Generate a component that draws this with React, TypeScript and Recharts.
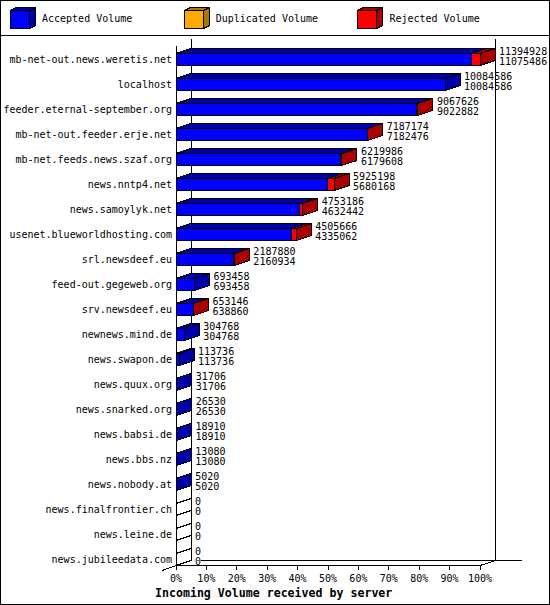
import { BarChart, Bar, XAxis, YAxis, Legend, LabelList } from "recharts";

// volumes per feeding server (articles)
const SERVERS = [
  "mb-net-out.news.weretis.net",
  "localhost",
  "feeder.eternal-september.org",
  "mb-net-out.feeder.erje.net",
  "mb-net.feeds.news.szaf.org",
  "news.nntp4.net",
  "news.samoylyk.net",
  "usenet.blueworldhosting.com",
  "srl.newsdeef.eu",
  "feed-out.gegeweb.org",
  "srv.newsdeef.eu",
  "newnews.mind.de",
  "news.swapon.de",
  "news.quux.org",
  "news.snarked.org",
  "news.babsi.de",
  "news.bbs.nz",
  "news.nobody.at",
  "news.finalfrontier.ch",
  "news.leine.de",
  "news.jubileedata.com",
];

const TOTAL_VOLUME = [
  11394928, 10084586, 9067626, 7187174, 6219986, 5925198, 4753186, 4505666,
  2187880, 693458, 653146, 304768, 113736, 31706, 26530, 18910, 13080, 5020,
  0, 0, 0,
];

const ACCEPTED_VOLUME = [
  11075486, 10084586, 9022882, 7182476, 6179608, 5680168, 4632442, 4335062,
  2160934, 693458, 638860, 304768, 113736, 31706, 26530, 18910, 13080, 5020,
  0, 0, 0,
];

const DUPLICATED_VOLUME = [
  0, 0, 0, 0, 0, 0, 0, 0, 0, 0, 0, 0, 0, 0, 0, 0, 0, 0, 0, 0, 0,
];

const REJECTED_VOLUME = [
  319442, 0, 44744, 4698, 40378, 245030, 120744, 170604, 26946, 0, 14286, 0,
  0, 0, 0, 0, 0, 0, 0, 0, 0,
];

const TICK_PERCENT = [0, 10, 20, 30, 40, 50, 60, 70, 80, 90, 100];
const TICK_LABELS = ["0%", "10%", "20%", "30%", "40%", "50%", "60%", "70%", "80%", "90%", "100%"];

const MAX_VOLUME = Math.max(...TOTAL_VOLUME);

const data = SERVERS.map((server, i) => ({
  server,
  accepted: ACCEPTED_VOLUME[i],
  duplicated: DUPLICATED_VOLUME[i],
  rejected: REJECTED_VOLUME[i],
  total: TOTAL_VOLUME[i],
}));

const MONO = "'DejaVu Sans Mono', 'Liberation Mono', monospace";
const DX = 15;
const DY = 5;

const SIDE_COLORS: Record<string, string> = {
  accepted: "#0000aa",
  duplicated: "#aa7700",
  rejected: "#aa0000",
};

function boxShape(front: string, dark: string, drawEmpty: boolean) {
  return (props: any) => {
    const { x, y, width, height } = props;
    const w = Math.max(width || 0, 0);
    if (w < 0.01 && !drawEmpty) return <g />;
    const x1 = x + w;
    return (
      <g stroke="#000" strokeWidth={1} shapeRendering="crispEdges">
        <rect x={x} y={y} width={w} height={height} fill={front} />
        <polygon
          points={`${x},${y} ${x1},${y} ${x1 + DX},${y - DY} ${x + DX},${y - DY}`}
          fill={dark}
        />
        <polygon
          points={`${x1},${y} ${x1 + DX},${y - DY} ${x1 + DX},${y + height - DY} ${x1},${y + height}`}
          fill={w > 0 ? dark : "#fff"}
        />
      </g>
    );
  };
}

function ValueLabel(props: any) {
  const vb = props.viewBox || props;
  const i = props.index;
  const tx = vb.x + Math.max(vb.width || 0, 0) + DX + 4;
  const cy = vb.y + vb.height / 2;
  return (
    <g fontFamily={MONO} fontSize={10} fill="#000">
      <text x={tx} y={cy - 8.5} dy="0.355em">{TOTAL_VOLUME[i]}</text>
      <text x={tx} y={cy + 2} dy="0.355em">{ACCEPTED_VOLUME[i]}</text>
    </g>
  );
}

function PercentTick({ x, y, index }: any) {
  return (
    <g>
      <line x1={x} x2={x} y1={y - 6.5} y2={y - 1.5} stroke="#000" shapeRendering="crispEdges" />
      <text x={x} y={y + 6.5} dy="0.355em" textAnchor="middle" fontFamily={MONO} fontSize={10} fill="#000">
        {TICK_LABELS[index]}
      </text>
    </g>
  );
}

function LegendContent({ payload }: any) {
  return (
    <div style={{ position: "relative", width: 550, height: 35 }}>
      {(payload || []).map((entry: any, i: number) => (
        <div key={entry.value} style={{ position: "absolute", left: 10 + i * 173.7, top: 6 }}>
          <svg width={30} height={24} style={{ position: "absolute", left: 0, top: 0 }}>
            <g stroke="#000" strokeWidth={1} shapeRendering="crispEdges">
              <rect x={0.5} y={4.5} width={19} height={18} fill={entry.color} />
              <polygon points="0.5,4.5 19.5,4.5 25.5,1.5 6.5,1.5" fill={SIDE_COLORS[entry.dataKey]} />
              <polygon points="19.5,4.5 25.5,1.5 25.5,19.5 19.5,22.5" fill={SIDE_COLORS[entry.dataKey]} />
            </g>
          </svg>
          <span
            style={{
              position: "absolute",
              left: 32,
              top: 7,
              fontFamily: MONO,
              fontSize: 10,
              lineHeight: "12px",
              whiteSpace: "nowrap",
              color: "#000",
            }}
          >
            {entry.value}
          </span>
        </div>
      ))}
    </div>
  );
}

export default function App() {
  return (
    <div style={{ position: "absolute", left: 0, top: 0, width: 550, height: 605, background: "#fff" }}>
      <svg width={550} height={605} style={{ position: "absolute", left: 0, top: 0 }}>
        <g stroke="#000" strokeWidth={1} fill="none" shapeRendering="crispEdges">
          <rect x={0.5} y={0.5} width={549} height={604} />
          <line x1={0} x2={550} y1={35.5} y2={35.5} />
          <line x1={191.5} x2={191.5} y1={39} y2={560.5} />
          <line x1={495.5} x2={495.5} y1={39} y2={560.5} />
          <line x1={176.5} x2={176.5} y1={46} y2={565.5} />
          <line x1={176.5} x2={480} y1={565.5} y2={565.5} />
          <line x1={201} x2={522} y1={560.5} y2={560.5} />
          <line x1={162} x2={191.5} y1={570.5} y2={560.5} />
          <line x1={480} x2={495.5} y1={565.5} y2={560.5} />
        </g>
        <text x={155} y={593} dy="0.355em" fontFamily={MONO} fontSize={11.6} fontWeight="bold" fill="#000">
          Incoming Volume received by server
        </text>
      </svg>
      <div style={{ position: "absolute", left: 0, top: 0 }}>
        <BarChart
          width={550}
          height={605}
          data={data}
          layout="vertical"
          margin={{ top: 11.5, right: 70, bottom: 0, left: 0 }}
        >
          <Legend
            verticalAlign="top"
            content={LegendContent}
            wrapperStyle={{ top: 0, left: 0, width: 550, height: 35 }}
          />
          <XAxis
            type="number"
            domain={[0, MAX_VOLUME]}
            ticks={TICK_PERCENT.map((p) => (p / 100) * MAX_VOLUME)}
            interval={0}
            axisLine={false}
            tickLine={false}
            tickSize={0}
            tickMargin={0}
            height={33.5}
            tick={PercentTick}
          />
          <YAxis
            type="category"
            dataKey="server"
            width={176}
            interval={0}
            axisLine={false}
            tickLine={false}
            tickSize={0}
            tickMargin={4}
            tick={{ fill: "#000", fontSize: 10, fontFamily: MONO }}
          />
          <Bar
            dataKey="accepted"
            name="Accepted Volume"
            stackId="v"
            fill="#0000ff"
            barSize={12}
            isAnimationActive={false}
            shape={boxShape("#0000ff", SIDE_COLORS.accepted, true)}
          />
          <Bar
            dataKey="duplicated"
            name="Duplicated Volume"
            stackId="v"
            fill="#ffaa00"
            barSize={12}
            isAnimationActive={false}
            shape={boxShape("#ffaa00", SIDE_COLORS.duplicated, false)}
          />
          <Bar
            dataKey="rejected"
            name="Rejected Volume"
            stackId="v"
            fill="#ff0000"
            barSize={12}
            isAnimationActive={false}
            shape={boxShape("#ff0000", SIDE_COLORS.rejected, false)}
          >
            <LabelList dataKey="total" content={ValueLabel} isAnimationActive={false} />
          </Bar>
        </BarChart>
      </div>
    </div>
  );
}
